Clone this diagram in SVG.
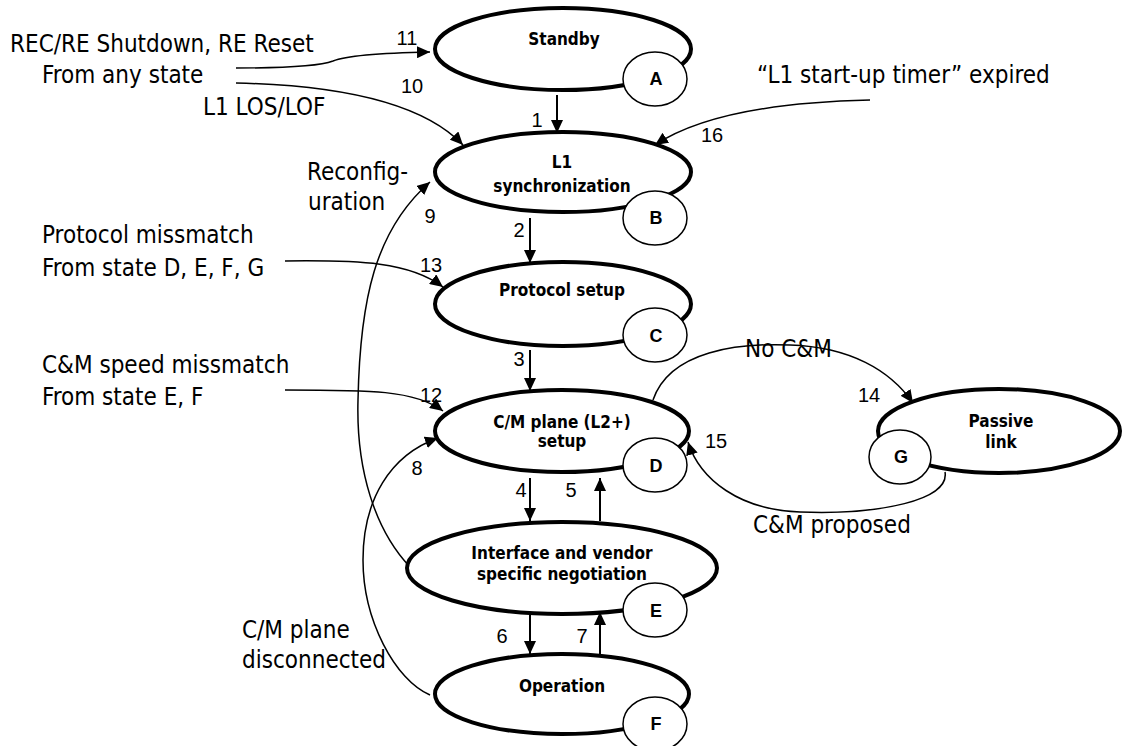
<svg xmlns="http://www.w3.org/2000/svg" width="1146" height="746" viewBox="0 0 1146 746">
<style>
.st{fill:#fff;stroke:#000;stroke-width:4}
.ci{fill:#fff;stroke:#000;stroke-width:1.5}
.nl{font-family:"DejaVu Sans Condensed","DejaVu Sans",sans-serif;font-weight:bold;font-size:17px;text-anchor:middle;fill:#000}
.cl{font-family:"Liberation Sans",Arial,sans-serif;font-weight:bold;font-size:18px;text-anchor:middle;fill:#000}
.tx{font-family:"DejaVu Sans Condensed","DejaVu Sans",sans-serif;font-size:24px;fill:#000}
.num{font-family:"Liberation Sans",Arial,sans-serif;font-size:20px;text-anchor:middle;fill:#000}
.cn{fill:none;stroke:#000;stroke-width:1.5}
.vc{fill:none;stroke:#000;stroke-width:2}
</style>
<defs>
<marker id="ah" markerUnits="userSpaceOnUse" markerWidth="14" markerHeight="12" refX="13" refY="6" orient="auto">
<path d="M0 0 L13 6 L0 12 Z" fill="#000"/>
</marker>
</defs>
<g id="connectors">
<path class="vc" d="M557 95 L557 133" marker-end="url(#ah)"/>
<path class="vc" d="M530 218 L530 263" marker-end="url(#ah)"/>
<path class="vc" d="M530 350 L530 391" marker-end="url(#ah)"/>
<path class="vc" d="M530 478 L530 521" marker-end="url(#ah)"/>
<path class="vc" d="M600 521 L600 478" marker-end="url(#ah)"/>
<path class="vc" d="M530 612 L530 654" marker-end="url(#ah)"/>
<path class="vc" d="M600 654 L600 612" marker-end="url(#ah)"/>
<path class="cn" d="M236 68 C290 68 320 66 333 61 C345 56 380 53 430 52" marker-end="url(#ah)"/>
<path class="cn" d="M236 83 C330 85 420 100 463 145" marker-end="url(#ah)"/>
<path class="cn" d="M870 100 C780 102 700 115 655 145" marker-end="url(#ah)"/>
<path class="cn" d="M410 567 C375 530 356 470 358 400 C360 300 375 230 430 182" marker-end="url(#ah)"/>
<path class="cn" d="M430 695 C395 680 363 620 363 560 C363 500 390 455 438 438" marker-end="url(#ah)"/>
<path class="cn" d="M285 261 C360 260 410 262 443 287" marker-end="url(#ah)"/>
<path class="cn" d="M285 390 C370 390 415 390 443 411" marker-end="url(#ah)"/>
<path class="cn" d="M653 400 C670 350 740 343 790 345 C850 347 890 370 913 403" marker-end="url(#ah)"/>
<path class="cn" d="M945 472 C950 500 880 515 800 512 C740 510 700 480 688 442" marker-end="url(#ah)"/>
</g>
<g id="standby">
<ellipse class="st" cx="563" cy="49" rx="128" ry="41"/>
<text class="nl" x="564" y="45">Standby</text>
<ellipse class="ci" cx="655" cy="79" rx="32" ry="27"/>
<text class="cl" x="656" y="85">A</text>
</g>
<g id="l1sync">
<ellipse class="st" cx="563" cy="172" rx="128" ry="40"/>
<text class="nl" x="562" y="168">L1</text>
<text class="nl" x="562" y="192">synchronization</text>
<ellipse class="ci" cx="655" cy="218" rx="32" ry="27"/>
<text class="cl" x="656" y="224">B</text>
</g>
<g id="protocol">
<ellipse class="st" cx="563" cy="304" rx="128" ry="42"/>
<text class="nl" x="562" y="296">Protocol setup</text>
<ellipse class="ci" cx="655" cy="335" rx="32" ry="27"/>
<text class="cl" x="656" y="342">C</text>
</g>
<g id="cmplane">
<ellipse class="st" cx="562" cy="431" rx="127" ry="41"/>
<text class="nl" x="562" y="428">C/M plane (L2+)</text>
<text class="nl" x="562" y="447">setup</text>
<ellipse class="ci" cx="655" cy="465" rx="32" ry="27"/>
<text class="cl" x="656" y="472">D</text>
</g>
<g id="interface">
<ellipse class="st" cx="562" cy="568" rx="155" ry="46"/>
<text class="nl" x="562" y="559">Interface and vendor</text>
<text class="nl" x="562" y="580">specific negotiation</text>
<ellipse class="ci" cx="655" cy="610" rx="32" ry="27"/>
<text class="cl" x="656" y="617">E</text>
</g>
<g id="operation">
<ellipse class="st" cx="562" cy="694" rx="127" ry="40"/>
<text class="nl" x="562" y="692">Operation</text>
<ellipse class="ci" cx="655" cy="724" rx="32" ry="27"/>
<text class="cl" x="656" y="730">F</text>
</g>
<g id="passive">
<ellipse class="st" cx="999" cy="431" rx="121" ry="42"/>
<text class="nl" x="1001" y="427">Passive</text>
<text class="nl" x="1001" y="448">link</text>
<ellipse class="ci" cx="900" cy="457" rx="31" ry="27"/>
<text class="cl" x="901" y="463">G</text>
</g>
<g id="labels">
<text class="tx" x="10" y="52">REC/RE Shutdown, RE Reset</text>
<text class="tx" x="42" y="83">From any state</text>
<text class="tx" x="203" y="115">L1 LOS/LOF</text>
<text class="tx" x="757" y="83">“L1 start-up timer” expired</text>
<text class="tx" x="307" y="180">Reconfig-</text>
<text class="tx" x="308" y="210">uration</text>
<text class="tx" x="42" y="243">Protocol missmatch</text>
<text class="tx" x="42" y="276">From state D, E, F, G</text>
<text class="tx" x="42" y="373">C&amp;M speed missmatch</text>
<text class="tx" x="42" y="405">From state E, F</text>
<text class="tx" x="745" y="357">No C&amp;M</text>
<text class="tx" x="753" y="533">C&amp;M proposed</text>
<text class="tx" x="242" y="638">C/M plane</text>
<text class="tx" x="242" y="668">disconnected</text>
<text class="num" x="407" y="45">11</text>
<text class="num" x="412" y="93">10</text>
<text class="num" x="537" y="127">1</text>
<text class="num" x="712" y="142">16</text>
<text class="num" x="430" y="223">9</text>
<text class="num" x="519" y="237">2</text>
<text class="num" x="431" y="272">13</text>
<text class="num" x="519" y="366">3</text>
<text class="num" x="431" y="402">12</text>
<text class="num" x="869" y="402">14</text>
<text class="num" x="716" y="448">15</text>
<text class="num" x="417" y="475">8</text>
<text class="num" x="521" y="497">4</text>
<text class="num" x="571" y="497">5</text>
<text class="num" x="502" y="643">6</text>
<text class="num" x="582" y="643">7</text>
</g>
</svg>
